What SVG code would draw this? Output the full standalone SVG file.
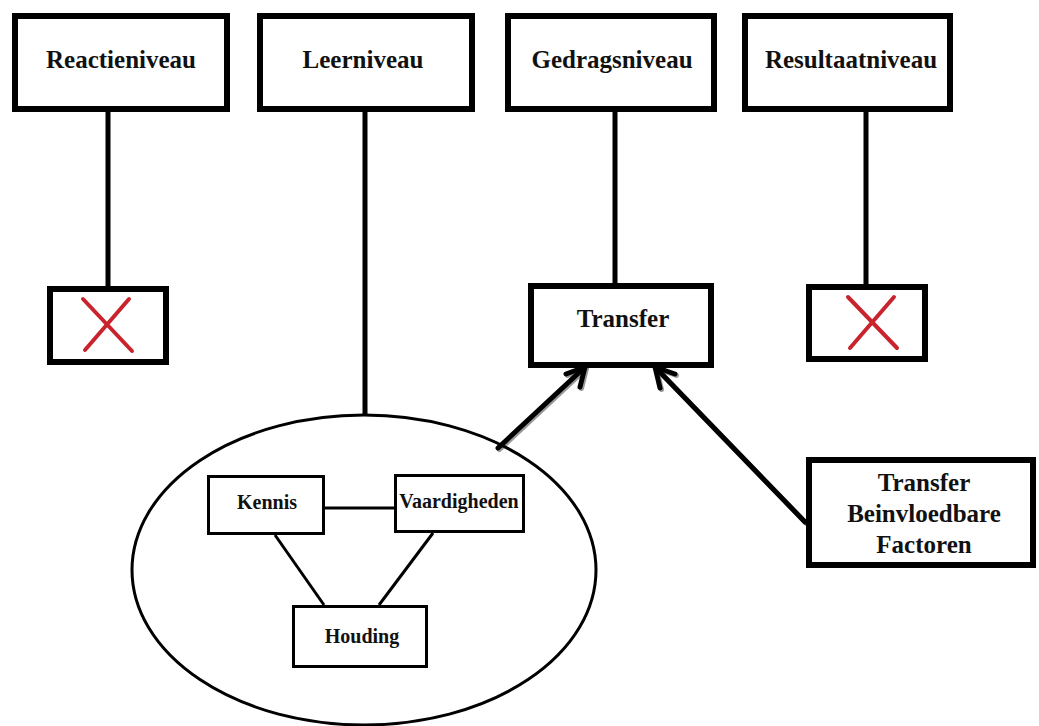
<svg xmlns="http://www.w3.org/2000/svg" width="1039" height="726" viewBox="0 0 1039 726">
<defs>
<style>
.box{fill:#fff;stroke:#000;stroke-width:6}
.sbox{fill:#fff;stroke:#000;stroke-width:3}
.lbl{font-family:"Liberation Serif","Times New Roman",serif;font-weight:bold;font-size:25px;fill:#111;text-anchor:middle}
.slbl{font-family:"Liberation Serif","Times New Roman",serif;font-weight:bold;font-size:20px;fill:#111;text-anchor:middle}
.ln{stroke:#000;stroke-width:5;fill:none}
.thin{stroke:#000;stroke-width:3;fill:none}
.arr{stroke:#000;stroke-width:5;fill:none;stroke-linecap:round;stroke-linejoin:round}
.shadow{stroke:#999;stroke-width:5;fill:none;stroke-linecap:round;stroke-linejoin:round}
.x{stroke:#c9242d;stroke-width:4;stroke-linecap:round}
</style>
</defs>
<rect width="1039" height="726" fill="#fff"/>
<g id="connectors">
<line class="ln" x1="108" y1="110" x2="108" y2="288"/>
<line class="ln" x1="365" y1="110" x2="365" y2="416"/>
<line class="ln" x1="615" y1="110" x2="615" y2="285"/>
<line class="ln" x1="866" y1="110" x2="866" y2="286"/>
<g transform="translate(1.5,1.5)">
<polyline class="shadow" points="498,448 585,367"/>
<polyline class="shadow" points="566,374 585,367 580,387"/>
<polyline class="shadow" points="805,522 655,367"/>
<polyline class="shadow" points="675,374 655,367 660,388"/>
</g>
<polyline class="arr" points="498,448 585,367"/>
<polyline class="arr" points="566,374 585,367 580,387"/>
<polyline class="arr" points="805,522 655,367"/>
<polyline class="arr" points="675,374 655,367 660,388"/>
<line class="thin" x1="325" y1="508" x2="394" y2="508"/>
<line class="thin" x1="275" y1="535" x2="324" y2="605"/>
<line class="thin" x1="433" y1="533" x2="379" y2="605"/>
</g>
<g id="reactieniveau">
<rect class="box" x="15" y="16" width="212" height="93"/>
<text class="lbl" x="121" y="68">Reactieniveau</text>
</g>
<g id="leerniveau">
<rect class="box" x="260" y="16" width="212" height="93"/>
<text class="lbl" x="363" y="68">Leerniveau</text>
</g>
<g id="gedragsniveau">
<rect class="box" x="508" y="16" width="206" height="93"/>
<text class="lbl" x="612" y="68">Gedragsniveau</text>
</g>
<g id="resultaatniveau">
<rect class="box" x="745" y="16" width="205" height="93"/>
<text class="lbl" x="851" y="68">Resultaatniveau</text>
</g>
<g id="x1">
<rect class="box" x="50" y="289" width="116" height="73"/>
<line class="x" x1="83" y1="299" x2="132" y2="351"/>
<line class="x" x1="129" y1="299" x2="85" y2="350"/>
</g>
<g id="transfer">
<rect class="box" x="531" y="286" width="180" height="79"/>
<text class="lbl" x="623" y="327">Transfer</text>
</g>
<g id="x2">
<rect class="box" x="809" y="287" width="116" height="72"/>
<line class="x" x1="848" y1="297" x2="897" y2="348"/>
<line class="x" x1="894" y1="297" x2="850" y2="348"/>
</g>
<g id="factoren">
<rect class="box" x="809" y="460" width="224" height="105"/>
<text class="lbl" x="924" y="491">Transfer</text>
<text class="lbl" x="924" y="522">Beinvloedbare</text>
<text class="lbl" x="924" y="553">Factoren</text>
</g>
<g id="leer-ellipse">
<ellipse cx="364" cy="570" rx="232" ry="155" fill="none" stroke="#000" stroke-width="3"/>
</g>
<g id="kennis">
<rect class="sbox" x="208.5" y="476.5" width="115" height="57"/>
<text class="slbl" x="267" y="509">Kennis</text>
</g>
<g id="vaardigheden">
<rect class="sbox" x="395.5" y="475.5" width="128" height="56"/>
<text class="slbl" x="459" y="508">Vaardigheden</text>
</g>
<g id="houding">
<rect class="sbox" x="293.5" y="606.5" width="133" height="60"/>
<text class="slbl" x="362" y="643">Houding</text>
</g>
</svg>
